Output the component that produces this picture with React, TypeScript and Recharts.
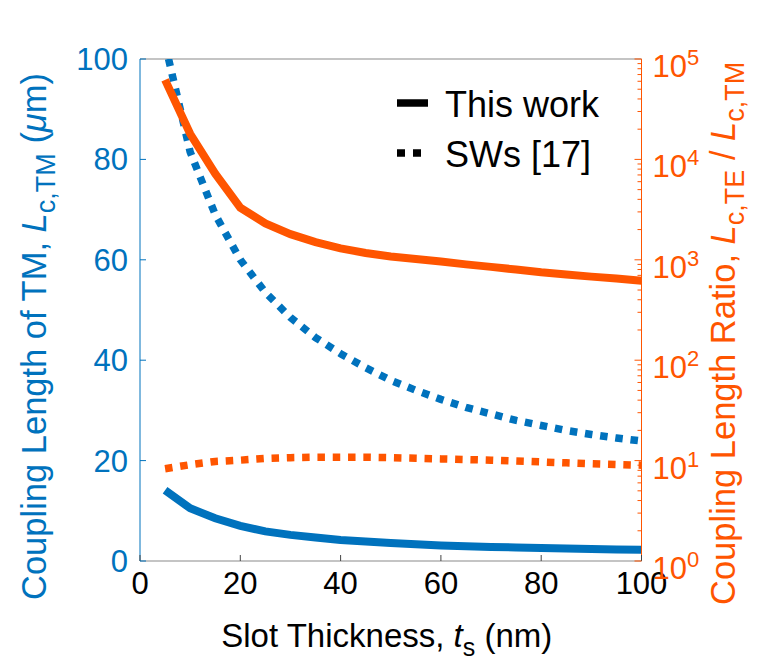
import React from 'react';
import { ComposedChart, Line, XAxis, YAxis, Legend, ReferenceLine } from 'recharts';

// slot thickness t_s (nm)
const thickness = [5, 10, 15, 20, 25, 30, 35, 40, 45, 50, 55, 60, 65, 70, 75, 80, 85, 90, 95, 100];

// coupling length of TM (um), left axis
const tmThisWork = [14.1, 10.5, 8.5, 7.0, 5.9, 5.2, 4.7, 4.2, 3.9, 3.6, 3.35, 3.1, 2.95, 2.8, 2.7, 2.6, 2.5, 2.4, 2.3, 2.25];
const tmSWs = [103, 81.5, 69, 60, 53.5, 48.5, 44.5, 41.3, 38.5, 36, 34, 32.2, 30.6, 29.3, 28, 27, 26, 25.2, 24.5, 23.9];

// coupling length ratio Lc,TE / Lc,TM, right axis (log)
const ratioThisWork = [62000, 18000, 7200, 3300, 2300, 1800, 1500, 1300, 1170, 1080, 1020, 960, 900, 850, 800, 750, 715, 680, 650, 620];
const ratioSWs = [8.3, 9.1, 9.8, 10.1, 10.5, 10.7, 10.8, 10.8, 10.8, 10.7, 10.55, 10.4, 10.25, 10.1, 9.9, 9.7, 9.5, 9.3, 9.15, 9.0];

const xTicks = [0, 20, 40, 60, 80, 100];
const leftTicks = [0, 20, 40, 60, 80, 100];
const ratioDecades = [1, 10, 100, 1000, 10000, 100000];
const ratioMinorSteps = [2, 3, 4, 5, 6, 7, 8, 9];
const legendLabels = ['This work', 'SWs [17]'];

const BLUE = '#0072BD';
const ORANGE = '#FF5500';
const GRAY = '#8a8a8a';
const FONT = '"Liberation Sans", Arial, Helvetica, sans-serif';

const data = thickness.map((t, i) => ({
  t,
  tmThisWork: tmThisWork[i],
  tmSWs: tmSWs[i],
  ratioThisWork: ratioThisWork[i],
  ratioSWs: ratioSWs[i],
}));

const ratioTicks = [
  ...ratioDecades.slice(0, -1).flatMap((d) => [d, ...ratioMinorSteps.map((m) => m * d)]),
  ratioDecades[ratioDecades.length - 1],
];

const BottomTick = ({ x, y, payload }: any) => (
  <g>
    <line x1={x} y1={y} x2={x} y2={y - 6} stroke="#444" strokeWidth={1} />
    <text x={x} y={y + 33} textAnchor="middle" fontSize={31} fontFamily={FONT} fill="#000">
      {payload.value}
    </text>
  </g>
);

const LeftTick = ({ x, y, payload }: any) => (
  <g>
    <line x1={x} y1={y} x2={x + 6} y2={y} stroke={BLUE} strokeWidth={1} />
    <text x={x - 12} y={y + 11} textAnchor="end" fontSize={31} fontFamily={FONT} fill={BLUE}>
      {payload.value}
    </text>
  </g>
);

const RightTick = ({ x, y, payload }: any) => {
  const exp = Math.log10(payload.value);
  const major = Math.abs(exp - Math.round(exp)) < 1e-6;
  return (
    <g>
      <line x1={x} y1={y} x2={x - (major ? 7 : 4)} y2={y} stroke={ORANGE} strokeWidth={1} />
      {major && (
        <text x={x + 11} y={y + 18} fontSize={31} fontFamily={FONT} fill={ORANGE}>
          10
          <tspan fontSize={22} dy={-12}>{Math.round(exp)}</tspan>
        </text>
      )}
    </g>
  );
};

const LeftTitle = ({ viewBox }: any) => {
  const x = viewBox.x + 46;
  const y = viewBox.y + viewBox.height + 39;
  return (
    <text x={x} y={y} transform={`rotate(-90, ${x}, ${y})`} fontSize={34.5} fontFamily={FONT} fill={BLUE}>
      Coupling Length of TM,{' '}
      <tspan fontStyle="italic">L</tspan>
      <tspan fontSize={27} dy={9}>c,TM</tspan>
      <tspan dy={-9}>{'  ('}</tspan>
      <tspan fontStyle="italic">μ</tspan>
      <tspan>m)</tspan>
    </text>
  );
};

const RightTitle = ({ viewBox }: any) => {
  const x = viewBox.x + 93;
  const y = viewBox.y + viewBox.height + 44;
  return (
    <text x={x} y={y} transform={`rotate(-90, ${x}, ${y})`} fontSize={34.5} fontFamily={FONT} fill={ORANGE}>
      Coupling Length Ratio,{' '}
      <tspan fontStyle="italic">L</tspan>
      <tspan fontSize={27} dy={9}>c,TE</tspan>
      <tspan dy={-9}> / </tspan>
      <tspan fontStyle="italic">L</tspan>
      <tspan fontSize={27} dy={9}>c,TM</tspan>
    </text>
  );
};

const BottomTitle = ({ viewBox }: any) => {
  const x = viewBox.x + viewBox.width / 2 - 4;
  const y = viewBox.y + 86;
  return (
    <text x={x} y={y} textAnchor="middle" fontSize={33} fontFamily={FONT} fill="#000">
      Slot Thickness,{' '}
      <tspan fontStyle="italic">t</tspan>
      <tspan fontSize={25} dy={9}>s</tspan>
      <tspan dy={-9}> (nm)</tspan>
    </text>
  );
};

const renderLegend = () => (
  <svg width={270} height={110}>
    {legendLabels.map((label, i) => (
      <g key={label}>
        <line
          x1={7}
          y1={33 + i * 50}
          x2={38}
          y2={33 + i * 50}
          stroke="#000"
          strokeWidth={7.5}
          strokeDasharray={i === 1 ? '8 8' : undefined}
        />
        <text x={55} y={47 + i * 50} fontSize={36} fontFamily={FONT} fill="#000">
          {label}
        </text>
      </g>
    ))}
  </svg>
);

export default function App() {
  return (
    <div style={{ position: 'absolute', left: 0, top: 0, width: 760, height: 659, background: '#fff' }}>
      <ComposedChart width={760} height={659} data={data} margin={{ top: 59, right: 0, bottom: 0, left: 0 }}>
        <XAxis
          dataKey="t"
          type="number"
          domain={[0, 100]}
          ticks={xTicks}
          interval={0}
          height={98}
          tickSize={0}
          tickMargin={0}
          tick={<BottomTick />}
          axisLine={{ stroke: GRAY, strokeWidth: 1.2 }}
          label={<BottomTitle />}
        />
        <YAxis
          yAxisId="left"
          orientation="left"
          type="number"
          domain={[0, 100]}
          allowDataOverflow
          ticks={leftTicks}
          interval={0}
          width={140}
          tickSize={0}
          tickMargin={0}
          tick={<LeftTick />}
          axisLine={{ stroke: BLUE, strokeWidth: 1 }}
          label={<LeftTitle />}
        />
        <YAxis
          yAxisId="right"
          orientation="right"
          type="number"
          scale="log"
          domain={[1, 100000]}
          allowDataOverflow
          ticks={ratioTicks}
          interval={0}
          width={118.5}
          tickSize={0}
          tickMargin={0}
          tick={<RightTick />}
          axisLine={{ stroke: ORANGE, strokeWidth: 1 }}
          label={<RightTitle />}
        />
        <ReferenceLine yAxisId="left" y={100} stroke={GRAY} strokeWidth={1.2} />
        <Line
          yAxisId="left"
          type="linear"
          dataKey="tmThisWork"
          stroke={BLUE}
          strokeWidth={8}
          dot={false}
          isAnimationActive={false}
        />
        <Line
          yAxisId="left"
          type="linear"
          dataKey="tmSWs"
          stroke={BLUE}
          strokeWidth={7.5}
          strokeDasharray="7.5 7.8"
          dot={false}
          isAnimationActive={false}
        />
        <Line
          yAxisId="right"
          type="linear"
          dataKey="ratioThisWork"
          stroke={ORANGE}
          strokeWidth={8}
          dot={false}
          isAnimationActive={false}
        />
        <Line
          yAxisId="right"
          type="linear"
          dataKey="ratioSWs"
          stroke={ORANGE}
          strokeWidth={7.5}
          strokeDasharray="7.5 7.8"
          dot={false}
          isAnimationActive={false}
        />
        <Legend
          layout="horizontal"
          verticalAlign="middle"
          align="center"
          content={renderLegend}
          wrapperStyle={{ left: 390, top: 70, width: 270, height: 110 }}
        />
      </ComposedChart>
    </div>
  );
}
